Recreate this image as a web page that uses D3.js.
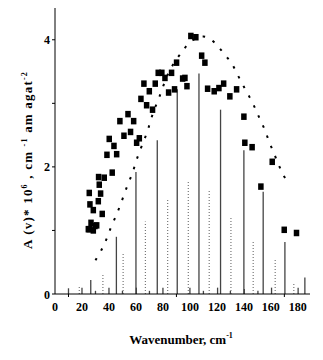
<!DOCTYPE html>
<html><head><meta charset="utf-8">
<script src="https://cdn.jsdelivr.net/npm/d3@7"></script>
<style>body{margin:0;background:#fff}svg{display:block}</style>
</head><body>
<script>
// experimental points (wavenumber, A)
const expX = [25.4,28.4,26.7,30.9,24.7,29.6,28.4,35,25.9,32.1,25.4,33.8,32.8,32.3,36.5,42.4,38.5,45.7,43.7,40.2,51.1,56,60.5,62.5,48.1,58.3,54.1,63.7,67.9,72.3,65.9,74.3,69.9,76.5,79.2,81.5,84.2,86.4,88.6,90.1,94.6,96.3,97.8,100.7,104.4,108.7,111.1,113.1,118,121.5,125,129.6,134.6,140,140.7,146.1,161,152.6,169.9,179];
const expY = [1.02,1.00,1.12,1.08,1.02,1.07,1.32,1.26,1.41,1.46,1.59,1.58,1.72,1.84,1.83,1.91,2.19,2.20,2.33,2.44,2.49,2.55,2.38,2.45,2.72,2.72,2.83,3.07,2.97,2.90,3.31,3.31,3.19,3.48,3.48,3.40,3.17,3.48,3.22,3.64,3.39,3.40,3.27,4.06,4.04,3.75,3.64,3.23,3.19,3.24,3.31,3.11,3.22,2.79,2.38,2.31,2.08,1.69,1.01,0.96];
// theoretical dotted curve
const curveX = [30,34.6,38.3,41.5,45.2,48.4,51.3,54.3,57.5,60,63,66.4,69.1,71.6,74.5,77.5,80.7,84,89,94.6,99.3,104.5,109.9,115.3,121,126.2,131.4,135.8,140,144.4,148.4,151.9,155.6,158.8,162.2,165.4,169.1,173.8];
const curveY = [0.53,0.70,0.87,1.05,1.23,1.40,1.57,1.74,1.91,2.08,2.26,2.44,2.60,2.78,2.95,3.11,3.30,3.47,3.66,3.82,3.95,4.02,4.05,4.01,3.89,3.76,3.61,3.43,3.26,3.09,2.92,2.75,2.58,2.39,2.22,2.05,1.88,1.70];
// solid stick spectrum
const solidX = [10,20,26.5,30,40,45.5,50,60,60.3,70,75.8,80,90.6,100,106.7,110,120.5,122.7,130,140,140.3,150.4,154.3,160.5,170.4,180.2,185.2];
const solidY = [0.09,0.10,0.22,0.05,0.10,0.90,0.05,1.92,0.10,0.05,2.42,0.10,3.22,0.10,3.47,0.05,0.10,2.90,0.05,2.26,0.08,0.05,1.61,0.10,0.82,0.10,0.26];
// dotted stick spectrum
const dotX = [18,35.5,50.5,67,83.5,98.8,114.3,130.4,146.9,163.2,177];
const dotY = [0.14,0.32,0.63,1.14,1.49,1.78,1.62,1.22,0.82,0.55,0.17];
const xTicks = [0,20,40,60,80,100,120,140,160,180];
const yTicks = [0,2,4];
const yMinor = [1,3];

const W=323,H=360;
const svg=d3.select("body").append("svg").attr("width",W).attr("height",H);
const x=d3.scaleLinear().domain([0,189]).range([55,310]);
const y=d3.scaleLinear().domain([0,4.5]).range([294,8]);
const font="'Liberation Serif', 'Times New Roman', serif";

// sticks
svg.append("g").selectAll("line").data(solidX).join("line")
  .attr("x1",d=>x(d)).attr("x2",d=>x(d))
  .attr("y1",y(0)).attr("y2",(d,i)=>y(solidY[i]))
  .attr("stroke","#444").attr("stroke-width",1.3);
svg.append("g").selectAll("line").data(dotX).join("line")
  .attr("x1",d=>x(d)).attr("x2",d=>x(d))
  .attr("y1",y(0)).attr("y2",(d,i)=>y(dotY[i]))
  .attr("stroke","#777").attr("stroke-width",1.2).attr("stroke-dasharray","1,2");

// theoretical curve
const line=d3.line().x(d=>x(d[0])).y(d=>y(d[1])).curve(d3.curveCatmullRom);
svg.append("path").datum(curveX.map((d,i)=>[d,curveY[i]]))
  .attr("d",line).attr("fill","none").attr("stroke","#000")
  .attr("stroke-width",2).attr("stroke-dasharray","2.5,8.5");

// squares
svg.append("g").selectAll("rect").data(expX).join("rect")
  .attr("x",d=>x(d)-2.75).attr("y",(d,i)=>y(expY[i])-3.25)
  .attr("width",5.5).attr("height",6.5).attr("fill","#000");

// axes
svg.append("line").attr("x1",55).attr("x2",55).attr("y1",8).attr("y2",294).attr("stroke","#000").attr("stroke-width",1);
svg.append("line").attr("x1",55).attr("x2",310).attr("y1",294).attr("y2",294).attr("stroke","#000").attr("stroke-width",1);
svg.append("g").selectAll("line").data(yTicks.concat(yMinor)).join("line")
  .attr("x1",52).attr("x2",55).attr("y1",d=>y(d)).attr("y2",d=>y(d)).attr("stroke","#000");
svg.append("g").selectAll("line").data([10,90,170]).join("line")
  .attr("x1",d=>x(d)).attr("x2",d=>x(d)).attr("y1",294).attr("y2",297).attr("stroke","#000");

svg.append("g").selectAll("text").data(xTicks).join("text")
  .attr("x",d=>x(d)).attr("y",311).attr("text-anchor","middle")
  .attr("font-family",font).attr("font-weight","bold").attr("font-size",12).text(d=>d);
svg.append("g").selectAll("text").data(yTicks).join("text")
  .attr("x",50).attr("y",d=>y(d)+4.5).attr("text-anchor","end")
  .attr("font-family",font).attr("font-weight","bold").attr("font-size",12).text(d=>d);

// x title
const xt=svg.append("text").attr("x",181).attr("y",344).attr("text-anchor","middle")
  .attr("font-family",font).attr("font-weight","bold").attr("font-size",13);
xt.append("tspan").text("Wavenumber, cm");
xt.append("tspan").attr("dy",-6).attr("font-size",8).text("-1");

// y title
const yt=svg.append("text").attr("transform","translate(32,160) rotate(-90)")
  .attr("text-anchor","middle").attr("font-family",font).attr("font-size",13)
  .attr("font-weight","bold").attr("letter-spacing",1.2);
yt.append("tspan").text("A (v)* 10");
yt.append("tspan").attr("dy",-5).attr("font-size",8).text("6");
yt.append("tspan").attr("dy",5).text(" , cm ");
yt.append("tspan").attr("dy",-5).attr("font-size",8).text("-1");
yt.append("tspan").attr("dy",5).text(" am agat");
yt.append("tspan").attr("dy",-5).attr("font-size",8).text("-2");
</script>
</body></html>
